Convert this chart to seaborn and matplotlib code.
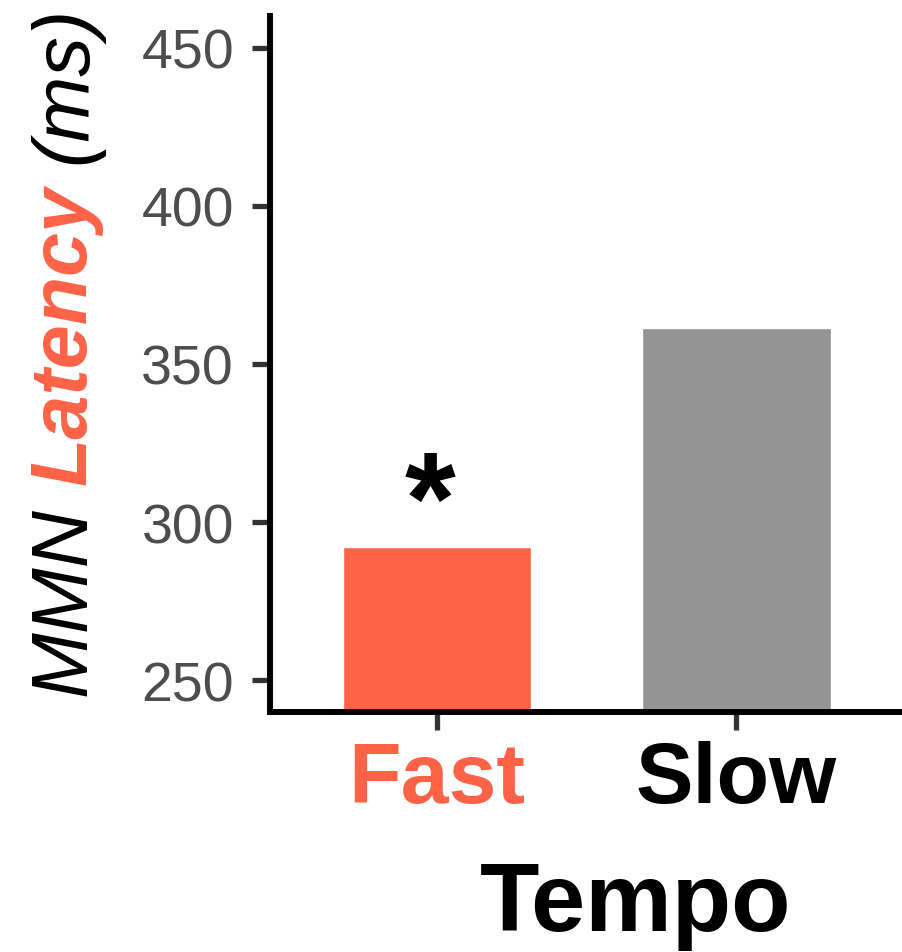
import matplotlib
matplotlib.use("Agg")
import matplotlib.pyplot as plt
from matplotlib.font_manager import FontProperties
import seaborn as sns
import pandas as pd

# MMN latency by tempo condition
tempo = ["Fast", "Slow"]
latency_ms = [292.0, 361.5]
bar_colors = ["#FF6347", "#949494"]
label_colors = ["#FF6347", "#000000"]
y_ticks = [250, 300, 350, 400, 450]
star_value = 304.5

sns.set_theme(style="ticks")
plt.rcParams["font.family"] = ["Liberation Sans", "DejaVu Sans"]

df = pd.DataFrame({"Tempo": tempo, "Latency": latency_ms})

W, H = 902, 953
fig = plt.figure(figsize=(W / 100, H / 100), dpi=100)
ax = fig.add_axes([270 / W, 1 - 713 / H, (W - 270) / W, (713 - 17) / H])

sns.barplot(data=df, x="Tempo", y="Latency", hue="Tempo", palette=bar_colors,
            width=0.63, legend=False, ax=ax, saturation=1)

ax.set_ylim(240, 460)
ax.set_xlim(-0.558, 1.553)
ax.set_yticks(y_ticks)
ax.set_yticklabels([str(t) for t in y_ticks])

for side in ["top", "right"]:
    ax.spines[side].set_visible(False)
for side in ["left", "bottom"]:
    ax.spines[side].set_color("black")
    ax.spines[side].set_linewidth(4.3)
    ax.spines[side].set_capstyle("projecting")

ax.tick_params(axis="both", colors="#333333", width=3.8, length=13)
ax.tick_params(axis="y", labelsize=40, labelcolor="#4D4D4D", pad=13)
ax.tick_params(axis="x", labelsize=62, pad=7)
for lab, c in zip(ax.get_xticklabels(), label_colors):
    lab.set_color(c)
    lab.set_fontweight("bold")

# significance marker above the Fast bar
ax.text(-0.023, star_value, "*", ha="center", va="center", fontsize=94,
        fontweight="bold", color="black")

ax.set_xlabel("Tempo", fontsize=70, fontweight="bold", color="black")
ax.xaxis.set_label_coords((636 - 270) / (W - 270), -(861 - 713) / (713 - 17))
ax.set_ylabel("")

# y-axis title built from differently styled pieces
renderer = fig.canvas.get_renderer()
pieces = [("MMN", "normal", "black"), (" ", "normal", "black"),
          ("Latency", "bold", "#FF6347"), (" ", "normal", "black"),
          ("(ms)", "normal", "black")]
x0 = 86 / W
ypos = 1 - 696 / H
for s, weight, color in pieces:
    prop = FontProperties(family=["Liberation Sans", "DejaVu Sans"], style="italic",
                          weight=weight, size=57)
    if s == " ":
        w2, _, _ = renderer.get_text_width_height_descent("a a", prop, ismath=False)
        w1, _, _ = renderer.get_text_width_height_descent("aa", prop, ismath=False)
        ypos += (w2 - w1) / H
        continue
    fig.text(x0, ypos, s, rotation=90, rotation_mode="anchor", ha="left",
             va="baseline", fontproperties=prop, color=color)
    w, _, _ = renderer.get_text_width_height_descent(s, prop, ismath=False)
    ypos += w / H

fig.savefig("out.png", dpi=100)
